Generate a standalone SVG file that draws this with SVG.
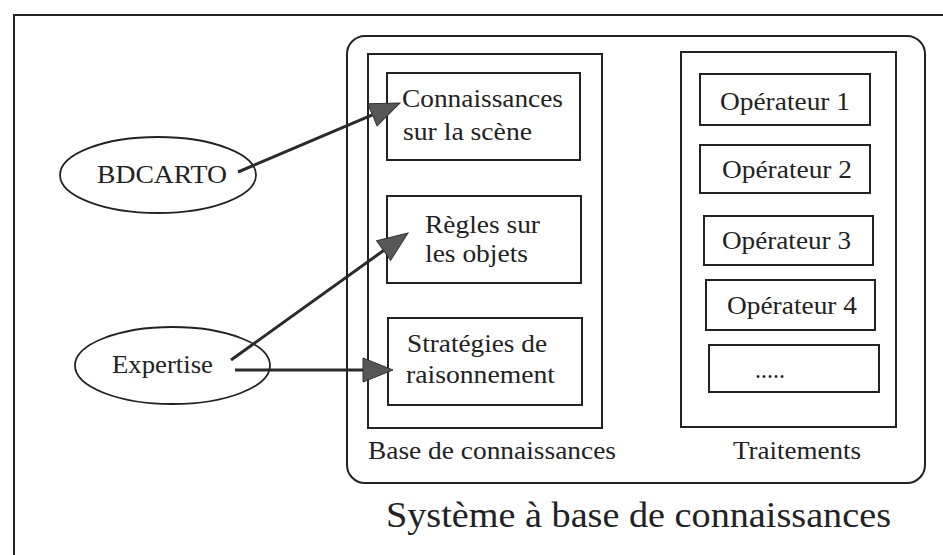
<svg xmlns="http://www.w3.org/2000/svg" width="943" height="555" viewBox="0 0 943 555">
<style>
  .box { fill: none; stroke: #222; stroke-width: 2; }
  .ell { fill: none; stroke: #222; stroke-width: 1.8; }
  .t { font-family: "Liberation Serif", "Times New Roman", serif; font-size: 25px; fill: #222; }
  .title { font-family: "Liberation Serif", "Times New Roman", serif; font-size: 35px; fill: #222; }
  .conn { fill: none; stroke: #2a2a2a; stroke-width: 3; }
</style>
<defs>
  <marker id="ah" markerUnits="userSpaceOnUse" markerWidth="32" markerHeight="26" refX="0" refY="12" orient="auto" overflow="visible">
    <path d="M0,0 L30,12 L0,24 Z" fill="#575757" stroke="#333" stroke-width="1"/>
  </marker>
</defs>
<rect width="943" height="555" fill="#fff"/>

<g id="frame">
  <path d="M14,555 L14,15 L943,15" fill="none" stroke="#222" stroke-width="2"/>
</g>

<g id="systeme">
  <rect class="box" x="347" y="36" width="578" height="447" rx="18" ry="18"/>
  <text class="title" x="386" y="527" textLength="505" lengthAdjust="spacingAndGlyphs">Système à base de connaissances</text>
</g>

<g id="base-connaissances">
  <rect class="box" x="368" y="54" width="234" height="374"/>
  <text class="t" x="368" y="459" textLength="248" lengthAdjust="spacingAndGlyphs">Base de connaissances</text>
</g>

<g id="connaissances-scene">
  <rect class="box" x="387" y="73" width="193" height="87"/>
  <text class="t" x="402" y="107" textLength="161" lengthAdjust="spacingAndGlyphs">Connaissances</text>
  <text class="t" x="403" y="140" textLength="129" lengthAdjust="spacingAndGlyphs">sur la scène</text>
</g>

<g id="regles-objets">
  <rect class="box" x="387" y="196" width="194" height="87"/>
  <text class="t" x="425" y="233" textLength="115" lengthAdjust="spacingAndGlyphs">Règles sur</text>
  <text class="t" x="425" y="262" textLength="103" lengthAdjust="spacingAndGlyphs">les objets</text>
</g>

<g id="strategies">
  <rect class="box" x="388" y="318" width="194" height="87"/>
  <text class="t" x="407" y="352" textLength="140" lengthAdjust="spacingAndGlyphs">Stratégies de</text>
  <text class="t" x="406" y="383" textLength="149" lengthAdjust="spacingAndGlyphs">raisonnement</text>
</g>

<g id="traitements">
  <rect class="box" x="681" y="52" width="215" height="375"/>
  <text class="t" x="733" y="459" textLength="128" lengthAdjust="spacingAndGlyphs">Traitements</text>
</g>

<g id="operateur1">
  <rect class="box" x="700" y="74" width="170" height="51"/>
  <text class="t" x="720" y="110" textLength="130" lengthAdjust="spacingAndGlyphs">Opérateur 1</text>
</g>
<g id="operateur2">
  <rect class="box" x="700" y="145" width="170" height="48"/>
  <text class="t" x="722" y="178" textLength="130" lengthAdjust="spacingAndGlyphs">Opérateur 2</text>
</g>
<g id="operateur3">
  <rect class="box" x="704" y="216" width="169" height="49"/>
  <text class="t" x="722" y="249" textLength="129" lengthAdjust="spacingAndGlyphs">Opérateur 3</text>
</g>
<g id="operateur4">
  <rect class="box" x="706" y="280" width="169" height="50"/>
  <text class="t" x="727" y="314" textLength="130" lengthAdjust="spacingAndGlyphs">Opérateur 4</text>
</g>
<g id="operateur-etc">
  <rect class="box" x="709" y="345" width="170" height="47"/>
  <text class="t" x="755" y="378" textLength="30" lengthAdjust="spacingAndGlyphs">.....</text>
</g>

<g id="bdcarto">
  <ellipse class="ell" cx="158" cy="175" rx="98" ry="38"/>
  <text class="t" x="97" y="183" textLength="130" lengthAdjust="spacingAndGlyphs">BDCARTO</text>
</g>

<g id="expertise">
  <ellipse class="ell" cx="172.5" cy="365.5" rx="97.5" ry="38.5"/>
  <text class="t" x="112" y="373" textLength="101" lengthAdjust="spacingAndGlyphs">Expertise</text>
</g>

<g id="connectors">
  <path class="conn" d="M238,172 L372.4,114.8" marker-end="url(#ah)"/>
  <path class="conn" d="M231,360 L383.6,250.5" marker-end="url(#ah)"/>
  <path class="conn" d="M235,370 L363,370" stroke-width="2" marker-end="url(#ah)"/>
</g>
</svg>
